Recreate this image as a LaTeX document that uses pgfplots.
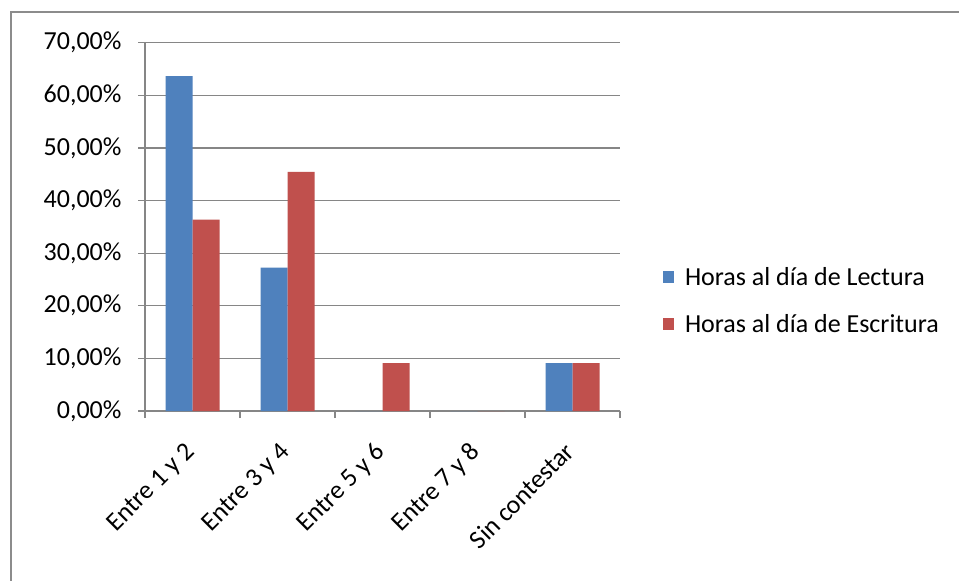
\documentclass[border=0pt]{standalone}
\usepackage{fontspec}
\setmainfont{Carlito}
\usepackage{pgfplots}
\pgfplotsset{compat=1.18}
\definecolor{barblue}{HTML}{4F81BD}
\definecolor{barred}{HTML}{C0504D}
\definecolor{gridc}{HTML}{868686}
\definecolor{framec}{HTML}{8C8C8C}
\begin{document}
\begin{tikzpicture}[x=1pt,y=1pt]
\useasboundingbox (0,0) rectangle (959,581);
\fill[white] (0,0) rectangle (959,581);
\draw[framec, line width=2.5pt] (11,-20) -- (11,569) -- (980,569);
\coordinate (O) at (145,170);
\begin{axis}[
  at={(O)}, anchor=south west, scale only axis,
  width=475pt, height=368.3pt,
  ybar=0pt, bar width=27pt,
  xmin=-0.5, xmax=4.5, ymin=0, ymax=70,
  ytick={0,10,...,70},
  xtick={0,...,4},
  xticklabels={Entre 1 y 2, Entre 3 y 4, Entre 5 y 6, Entre 7 y 8, Sin contestar},
  minor xtick={-0.5,0.5,...,4.5},
  axis lines*=left,
  axis line style={gridc, line width=1.3pt, -},
  ymajorgrids, grid style={gridc, line width=1.3pt},
  tick align=outside, major tick length=7pt, minor tick length=7pt,
  tick style={gridc, line width=1.3pt},
  every major x tick/.append style={draw=none},
  yticklabel={\pgfmathprintnumber[fixed,fixed zerofill,precision=2,use comma]{\tick}\%},
  /pgf/number format/assume math mode=true,
  ticklabel style={font=\fontsize{26}{30}\selectfont, text=black},
  yticklabel style={xshift=-13pt},
  xticklabel style={xshift=-9pt, yshift=-18pt, rotate=45, anchor=north east},
  legend style={at={(axis description cs:1,0.3)}, xshift=43pt, anchor=west,
    draw=none, fill=none, inner sep=0pt, outer sep=0pt, row sep=24pt,
    font=\fontsize{26}{30}\selectfont,
    /tikz/every odd column/.append style={column sep=9pt}},
  legend cell align=left,
]
\addplot[fill=barblue, draw=none,
  legend image code/.code={\fill[barblue] (0pt,-6pt) rectangle (11pt,6pt);}]
  coordinates {(0,63.64) (1,27.27) (2,0) (3,0) (4,9.09)};
\addlegendentry{Horas al día de Lectura}
\addplot[fill=barred, draw=none,
  legend image code/.code={\fill[barred] (0pt,-6pt) rectangle (11pt,6pt);}]
  coordinates {(0,36.36) (1,45.45) (2,9.09) (3,0) (4,9.09)};
\addlegendentry{Horas al día de Escritura}
\end{axis}
\end{tikzpicture}
\end{document}
